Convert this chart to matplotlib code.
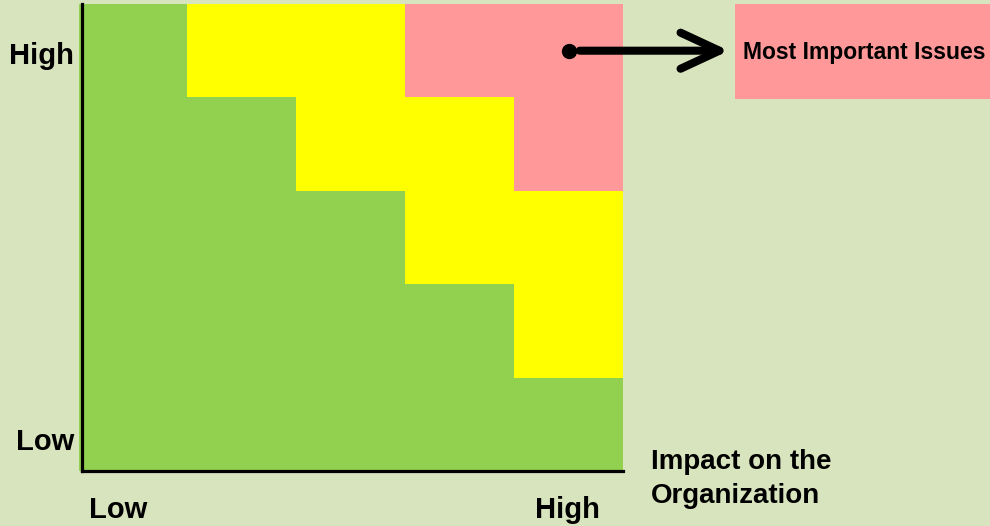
import matplotlib.pyplot as plt
from matplotlib.colors import ListedColormap
from matplotlib.patches import Rectangle
import numpy as np

plt.rcParams["font.family"] = ["Liberation Sans", "DejaVu Sans"]
plt.rcParams["font.weight"] = "bold"

# risk level per cell: 0 = low (green), 1 = medium (yellow), 2 = high (red)
# rows go from low likelihood (bottom) to high likelihood (top)
# columns go from low impact (left) to high impact (right)
risk_levels = [
    [0, 0, 0, 0, 0],
    [0, 0, 0, 0, 1],
    [0, 0, 0, 1, 1],
    [0, 0, 1, 1, 2],
    [0, 1, 1, 2, 2],
]
level_colors = ["#92D050", "#FFFF00", "#FF9999"]
y_labels = ["Low", "High"]
x_labels = ["Low", "High"]
x_title = ["Impact on the", "Organization"]
callout_text = "Most Important Issues"
callout_cell = (4, 4)  # column, row of the cell the arrow starts from

bg = "#D8E4BD"
W, H = 990, 526


def px(x, y):
    # pixel position (from top-left) -> figure fraction
    return x / W, 1 - y / H


fig = plt.figure(figsize=(W / 100, H / 100), dpi=100, facecolor=bg)
ax_left, ax_w = 78.5, 544.5
ax = fig.add_axes([ax_left / W, 1 - 471 / H, ax_w / W, 467 / H])
ax.set_facecolor(bg)

grid = np.array(risk_levels)
edges = np.arange(grid.shape[0] + 1)
ax.pcolormesh(edges, edges, grid, cmap=ListedColormap(level_colors),
              vmin=-0.5, vmax=2.5)
ax.set_xlim(0, 5)
ax.set_ylim(0, 5)
ax.set_xticks([])
ax.set_yticks([])
for side in ["top", "right"]:
    ax.spines[side].set_visible(False)
for side in ["left", "bottom"]:
    ax.spines[side].set_linewidth(2.3)
    ax.spines[side].set_color("black")
# the left axis line sits a few pixels inside the first column
spine_off = 3.5 / ax_w
ax.spines["left"].set_position(("axes", spine_off))
ax.spines["bottom"].set_bounds(spine_off * 5, 5)

# axis end labels
fs = 21
fig.text(*px(74, 64), y_labels[1], ha="right", va="baseline", fontsize=fs)
fig.text(*px(74, 450), y_labels[0], ha="right", va="baseline", fontsize=fs)
fig.text(*px(89, 518), x_labels[0], ha="left", va="baseline", fontsize=fs)
fig.text(*px(535, 518), x_labels[1], ha="left", va="baseline", fontsize=fs)
fig.text(*px(651, 469), x_title[0], ha="left", va="baseline", fontsize=20)
fig.text(*px(651, 503), x_title[1], ha="left", va="baseline", fontsize=20)

# callout box
x0, y0 = px(735, 99)
box = Rectangle((x0, y0), 1 - x0, 95 / H, transform=fig.transFigure,
                facecolor="#FF9999", edgecolor="none")
fig.patches.append(box)
fig.text(*px(743, 52), callout_text, ha="left", va="center", fontsize=16.5)

# dot + arrow from the top-right cell to the box
cx, cy = callout_cell[0] + 0.5, callout_cell[1] + 0.5
ax.plot(cx, cy, "o", color="black", markersize=10, clip_on=False)
ax.annotate("", xy=(729, cy), xycoords=("figure pixels", "data"),
            xytext=(cx, cy), textcoords="data",
            arrowprops=dict(arrowstyle="->,head_length=1.4,head_width=0.65",
                            color="black", lw=5.8, shrinkA=8, shrinkB=0,
                            mutation_scale=20, capstyle="round",
                            joinstyle="round"),
            annotation_clip=False)

plt.savefig("out.png", dpi=100, facecolor=bg)
